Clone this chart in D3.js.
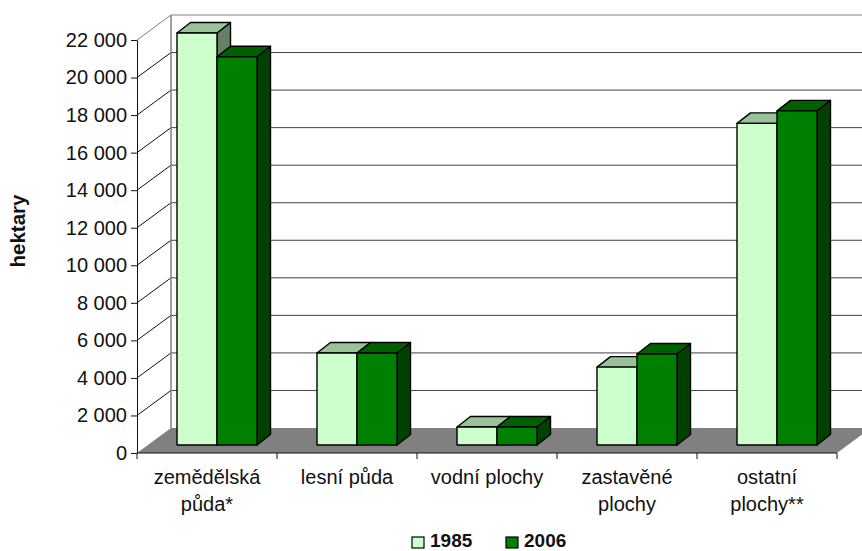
<!DOCTYPE html>
<html>
<head>
<meta charset="utf-8">
<script src="https://cdn.jsdelivr.net/npm/d3@7"></script>
<style>
  html, body { margin: 0; padding: 0; background: #fff; }
  svg { display: block; }
  text { font-family: "Liberation Sans", Arial, sans-serif; fill: #111; }
</style>
</head>
<body>
<div id="chart"></div>
<script>
const categories = [["zemědělská", "půda*"], ["lesní půda"], ["vodní plochy"], ["zastavěné", "plochy"], ["ostatní", "plochy**"]];
const seriesNames = ["1985", "2006"];
const values1985 = [21950, 4900, 960, 4150, 17130];
const values2006 = [20680, 4900, 960, 4850, 17800];
const yTicks = d3.range(0, 22001, 2000);

const width = 862, height = 551;
const colors = {
  "1985": { front: "#ccffcc", top: "#99c299", side: "#668066" },
  "2006": { front: "#008000", top: "#006000", side: "#004000" }
};

// 3D offsets: wall depth, bar position in the depth, bar depth
const wallDx = 34, wallDy = 25;
const barDx = 7, barDy = 8;
const depthDx = 13.5, depthDy = 10.5;

const svg = d3.select("#chart").append("svg")
  .attr("width", width)
  .attr("height", height);

const x = d3.scaleBand().domain(d3.range(categories.length)).range([137, 837]);
const xInner = d3.scaleBand().domain(seriesNames).range([33, 113]);
const y = d3.scaleLinear().domain([0, 22000]).range([453, 40]);

const path = pts => "M" + pts.map(p => p.join(",")).join("L") + "Z";

// floor
svg.append("path")
  .attr("d", path([
    [x.range()[0], y(0)], [x.range()[1], y(0)],
    [x.range()[1] + wallDx, y(0) - wallDy], [x.range()[0] + wallDx, y(0) - wallDy]
  ]))
  .attr("fill", "#808080");

// back wall gridlines and their diagonal part on the left wall
const grid = svg.append("g");
yTicks.forEach(t => {
  const gy = y(t);
  const isEdge = t === 22000;
  if (t > 0) {
    grid.append("line")
      .attr("x1", x.range()[0]).attr("y1", gy)
      .attr("x2", x.range()[0] + wallDx).attr("y2", gy - wallDy)
      .attr("stroke", isEdge ? "#808080" : "#111");
    grid.append("line")
      .attr("x1", x.range()[0] + wallDx).attr("y1", gy - wallDy)
      .attr("x2", width).attr("y2", gy - wallDy)
      .attr("stroke", isEdge ? "#808080" : "#444");
  }
});
grid.append("line")
  .attr("x1", x.range()[0] + wallDx).attr("y1", y(22000) - wallDy)
  .attr("x2", x.range()[0] + wallDx).attr("y2", y(0) - wallDy)
  .attr("stroke", "#808080").attr("stroke-width", 1.5);

// bars
const bars = svg.append("g")
  .attr("stroke", "#000")
  .attr("stroke-width", 1.4)
  .attr("stroke-linejoin", "round");

categories.forEach((c, i) => {
  seriesNames.forEach((s, k) => {
    const v = (k === 0 ? values1985 : values2006)[i];
    const col = colors[s];
    const x0 = x(i) + xInner(s) + barDx;
    const x1 = x0 + xInner.bandwidth();
    const yb = y(0) - barDy;
    const yt = y(v) - barDy;
    bars.append("path").attr("fill", col.side)
      .attr("d", path([[x1, yt], [x1 + depthDx, yt - depthDy], [x1 + depthDx, yb - depthDy], [x1, yb]]));
    bars.append("path").attr("fill", col.top)
      .attr("d", path([[x0, yt], [x0 + depthDx, yt - depthDy], [x1 + depthDx, yt - depthDy], [x1, yt]]));
    bars.append("rect").attr("fill", col.front)
      .attr("x", x0).attr("y", yt)
      .attr("width", x1 - x0).attr("height", yb - yt);
  });
});

// axes
const yAxis = d3.axisLeft(y).tickValues(yTicks)
  .tickFormat(d => d3.format(",")(d).replace(",", " "))
  .tickSize(6).tickSizeOuter(0).tickPadding(4);
const gy = svg.append("g").attr("transform", "translate(137,0)").call(yAxis);
gy.selectAll("text").attr("font-size", 20).style("font-family", "'Liberation Sans', Arial, sans-serif");
gy.selectAll("line, path").attr("stroke", "#111");

const xAxisLine = svg.append("g");
xAxisLine.append("line")
  .attr("x1", x.range()[0]).attr("x2", x.range()[1])
  .attr("y1", y(0)).attr("y2", y(0))
  .attr("stroke", "#111").attr("stroke-width", 1.2);
d3.range(categories.length + 1).forEach(i => {
  const tx = x.range()[0] + i * x.step();
  xAxisLine.append("line")
    .attr("x1", tx).attr("x2", tx)
    .attr("y1", y(0)).attr("y2", y(0) + 6)
    .attr("stroke", "#111");
});

categories.forEach((c, i) => {
  const t = svg.append("text")
    .attr("text-anchor", "middle")
    .attr("font-size", 20);
  c.forEach((line, j) => {
    t.append("tspan")
      .attr("x", x(i) + x.bandwidth() / 2)
      .attr("y", 484 + j * 27)
      .text(line);
  });
});

// y title
svg.append("text")
  .attr("transform", "translate(25,231) rotate(-90)")
  .attr("text-anchor", "middle")
  .attr("font-size", 20.5)
  .attr("font-weight", "bold")
  .text("hektary");

// legend
const legendX = [412, 506];
seriesNames.forEach((s, k) => {
  svg.append("rect")
    .attr("x", legendX[k]).attr("y", 537)
    .attr("width", 12).attr("height", 11)
    .attr("fill", colors[s].front)
    .attr("stroke", "#000")
    .attr("stroke-width", 1.2);
  svg.append("text")
    .attr("x", legendX[k] + 18).attr("y", 546.5)
    .attr("font-size", 19)
    .attr("font-weight", "bold")
    .text(s);
});
</script>
</body>
</html>
